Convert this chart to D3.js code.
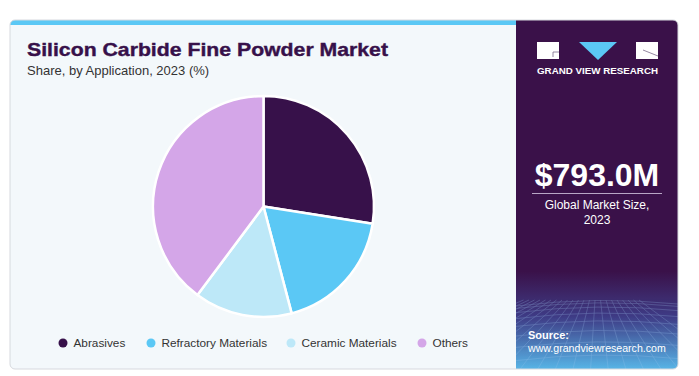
<!DOCTYPE html>
<html>
<head>
<meta charset="utf-8">
<script src="https://cdn.jsdelivr.net/npm/d3@7"></script>
<style>
  body { margin: 0; background: #fff; }
  svg { display: block; font-family: "Liberation Sans", Arial, sans-serif; }
</style>
</head>
<body>
<div class="canva"></div>
<script>
// chart data
const categories = ["Abrasives", "Refractory Materials", "Ceramic Materials", "Others"];
const shares = [27.5, 18.4, 14.3, 39.8];
const colors = ["#37114a", "#5bc8f5", "#bde8f8", "#d4a6e8"];

const W = 699, H = 376;
const svg = d3.select(".canva").append("svg")
    .attr("width", W)
    .attr("height", H);

const defs = svg.append("defs");
const grad = defs.append("linearGradient")
    .attr("id", "panelGrad")
    .attr("x1", 0).attr("y1", 0).attr("x2", 0).attr("y2", 1);
grad.append("stop").attr("offset", "0%").attr("stop-color", "#3a1149");
grad.append("stop").attr("offset", "72%").attr("stop-color", "#3a1149");
grad.append("stop").attr("offset", "85%").attr("stop-color", "#3f3c86");
grad.append("stop").attr("offset", "100%").attr("stop-color", "#58b4e6");

const clip = defs.append("clipPath").attr("id", "cardClip");
clip.append("rect").attr("x", 10).attr("y", 20).attr("width", 668).attr("height", 349).attr("rx", 5);
const panelClip = defs.append("clipPath").attr("id", "panelClip");
panelClip.append("rect").attr("x", 516).attr("y", 20).attr("width", 162).attr("height", 349).attr("rx", 5);

// card
const card = svg.append("g").attr("clip-path", "url(#cardClip)");
card.append("rect").attr("x", 10).attr("y", 20).attr("width", 668).attr("height", 349).attr("fill", "#f3f8fb");
card.append("rect").attr("x", 10).attr("y", 20).attr("width", 506).attr("height", 5).attr("fill", "#5bc8f5");
card.append("rect").attr("x", 516).attr("y", 20).attr("width", 162).attr("height", 349).attr("fill", "url(#panelGrad)");

// mesh in lower part of the side panel
const mesh = svg.append("g").attr("clip-path", "url(#panelClip)")
    .append("g").attr("stroke", "#9fc6ee").attr("stroke-width", 0.6).attr("fill", "none").attr("opacity", 0.4);
d3.range(0, 9).forEach(i => {
  const y = 302 + i * i * 0.9 + i * 1.5;
  mesh.append("path").attr("d", `M516,${y + 4} Q597,${y - 6} 678,${y + 2}`);
});
d3.range(-6, 16).forEach(i => {
  const x = 516 + i * 11;
  mesh.append("path").attr("d", `M${597 + (x - 597) * 0.5},300 L${597 + (x - 597) * 1.6},369`);
});

svg.append("rect").attr("x", 10).attr("y", 20).attr("width", 668).attr("height", 349).attr("rx", 5)
    .attr("fill", "none").attr("stroke", "#d6d9de").attr("stroke-width", 1);

// titles
svg.append("text").attr("x", 27).attr("y", 56)
    .attr("font-size", 19).attr("font-weight", "bold").attr("fill", "#37114a")
    .attr("stroke", "#37114a").attr("stroke-width", 0.4)
    .attr("textLength", 361).attr("lengthAdjust", "spacingAndGlyphs")
    .text("Silicon Carbide Fine Powder Market");
svg.append("text").attr("x", 27).attr("y", 75)
    .attr("font-size", 13).attr("fill", "#333")
    .text("Share, by Application, 2023 (%)");

// pie
const cx = 263.5, cy = 206.5, r = 110.5;
const pie = d3.pie().sort(null).value(d => d);
const arc = d3.arc().innerRadius(0).outerRadius(r);
svg.append("g").attr("transform", `translate(${cx},${cy})`)
  .selectAll("path")
  .data(pie(shares))
  .enter().append("path")
    .attr("d", arc)
    .attr("fill", (d, i) => colors[i])
    .attr("stroke", "#fff")
    .attr("stroke-width", 2.5)
    .attr("stroke-linejoin", "round");

// legend
const legendX = [63, 151, 291, 422];
const legend = svg.append("g").selectAll("g")
  .data(categories)
  .enter().append("g")
    .attr("transform", (d, i) => `translate(${legendX[i]},343)`);
legend.append("circle").attr("r", 4.5).attr("fill", (d, i) => colors[i]);
legend.append("text").attr("x", 10.5).attr("y", 4.2)
    .attr("font-size", 11.8).attr("fill", "#333").text(d => d);

// side panel logo
const logo = svg.append("g");
logo.append("rect").attr("x", 537).attr("y", 42).attr("width", 22).attr("height", 17).attr("fill", "#fff");
logo.append("path").attr("d", "M553,52 L559,52 M553,52 L553,57").attr("stroke", "#7a6a8a").attr("stroke-width", 0.8);
logo.append("path").attr("d", "M579,42 L617,42 L598,60 Z").attr("fill", "#5bc8f5");
logo.append("rect").attr("x", 636).attr("y", 42).attr("width", 22).attr("height", 17).attr("fill", "#fff");
logo.append("path").attr("d", "M643,50 L658,56").attr("stroke", "#7a6a8a").attr("stroke-width", 0.8);
logo.append("text").attr("x", 597.5).attr("y", 74).attr("text-anchor", "middle")
    .attr("font-size", 8.5).attr("font-weight", "bold").attr("fill", "#fff")
    .attr("textLength", 121).attr("lengthAdjust", "spacingAndGlyphs")
    .text("GRAND VIEW RESEARCH");

// market size
svg.append("text").attr("x", 597).attr("y", 186).attr("text-anchor", "middle")
    .attr("font-size", 32).attr("font-weight", "bold").attr("fill", "#fff")
    .text("$793.0M");
svg.append("line").attr("x1", 532).attr("x2", 662).attr("y1", 193.5).attr("y2", 193.5)
    .attr("stroke", "#b9a6c6").attr("stroke-width", 1);
svg.append("text").attr("x", 597).attr("y", 209).attr("text-anchor", "middle")
    .attr("font-size", 12).attr("fill", "#fff").text("Global Market Size,");
svg.append("text").attr("x", 597).attr("y", 224).attr("text-anchor", "middle")
    .attr("font-size", 12).attr("fill", "#fff").text("2023");

// source
svg.append("text").attr("x", 528).attr("y", 339)
    .attr("font-size", 11).attr("font-weight", "bold").attr("fill", "#fff").text("Source:");
svg.append("text").attr("x", 528).attr("y", 352)
    .attr("font-size", 10.6).attr("fill", "#fff").text("www.grandviewresearch.com");
</script>
</body>
</html>
